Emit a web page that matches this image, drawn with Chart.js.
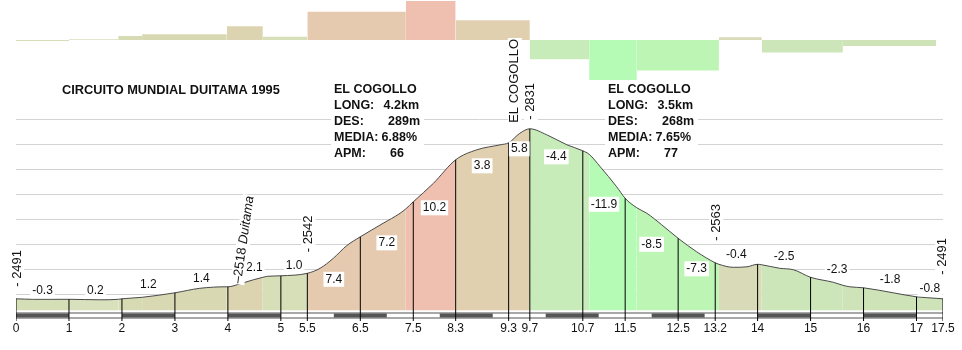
<!DOCTYPE html>
<html>
<head>
<meta charset="utf-8">
<script src="https://cdn.jsdelivr.net/npm/chart.js@4"></script>
<style>
  html, body { margin: 0; padding: 0; background: #fff; }
  #wrap { width: 962px; height: 350px; position: relative; }
</style>
</head>
<body>
<div id="wrap"><canvas id="profile"></canvas></div>
<script>
'use strict'

// km marks, elevation at each mark, gradient of each stretch
const kmMarks = [0, 1, 2, 3, 4, 5, 5.5, 6.5, 7.5, 8.3, 9.3, 9.7, 10.7, 11.5, 12.5, 13.2, 14, 15, 16, 17, 17.5];
const markElev = [2491, 2490, 2491, 2503, 2515, 2537, 2542, 2615, 2685, 2769, 2803, 2831, 2787, 2692, 2612, 2563, 2560, 2534, 2513, 2495, 2491];
const gradients = [-0.3, 0.2, 1.2, 1.4, 2.1, 1.0, 7.4, 7.2, 10.2, 3.8, 5.8, -4.4, -11.9, -8.5, -7.3, -0.4, -2.5, -2.3, -1.8, -0.8];

// profile line
const profileKm = [0, 0.33, 1, 1.59, 1.93, 2, 2.38, 3, 3.47, 3.98, 4, 4.23, 4.48, 4.66, 4.75, 5, 5.5, 5.74, 5.99, 6.24,
  6.5, 6.93, 7.25, 7.36, 7.5, 7.88, 8.3, 8.7, 9.14, 9.3, 9.51, 9.7, 10.02, 10.4, 10.7, 10.82, 11.03, 11.34, 11.5, 11.72,
  11.91, 12.19, 12.5, 12.85, 13.2, 13.27, 13.54, 13.8, 14, 14.08, 14.42, 14.68, 15, 15.43, 15.61, 15.74, 16, 16.56, 17, 17.37, 17.5];
const profileElev = [2491, 2490, 2490, 2489, 2490, 2491, 2494, 2503, 2512, 2515, 2515, 2521, 2529, 2534, 2536, 2537, 2542, 2552, 2572, 2597,
  2615, 2642, 2662, 2671, 2685, 2722, 2769, 2789, 2799, 2803, 2822, 2831, 2819, 2799, 2787, 2780, 2755, 2715, 2692, 2673,
  2662, 2639, 2612, 2585, 2563, 2560, 2554, 2555, 2560, 2559, 2552, 2549, 2534, 2524, 2518, 2515, 2513, 2503, 2495, 2492, 2491];

// gradient bars on top (also the fill colour of the profile)
const barKm = [0, 1, 1.93, 2.38, 3.98, 4.66, 5.5, 7.36, 8.3, 9.7, 10.82, 11.72, 13.27, 14.08, 15.61, 17.37];
const barGrade = [-0.3, 0.2, 1.2, 1.7, 4.1, 1.0, 8.4, 11.6, 5.9, -5.7, -11.9, -9.1, 0.8, -3.7, -1.8];
const barColors = ['#d5dfb7', '#d8e0bc', '#d6dbb3', '#d8d9b2', '#dcd3b0', '#d6dfb8', '#e6cab0', '#efc0b0',
  '#e0d0b0', '#c8ecb9', '#b5fbb5', '#bdf5b4', '#d8dab8', '#cce6b9', '#cfe3b8'];

// named points
const wpKm = [0, 4.2, 5.5, 9.7, 13.2, 17.5];
const wpElev = [2491, 2518, 2542, 2831, 2563, 2491];
const wpName = ['', 'Duitama', '', 'EL COGOLLO', '', ''];

// climbs
const climbName = ['EL COGOLLO', 'EL COGOLLO'];
const climbLong = ['4.2km', '3.5km'];
const climbDes = ['289m', '268m'];
const climbMedia = ['6.88%', '7.65%'];
const climbApm = ['66', '77'];

const gridElev = [2500, 2550, 2600, 2650, 2700, 2750, 2800, 2850];
const roadDashKm = [0, 2, 4, 6, 8, 10, 12, 14, 16];

const TITLE = 'CIRCUITO MUNDIAL DUITAMA 1995';
const FONT = 'Arial, "Liberation Sans", sans-serif';

// axis ranges
const Y_MIN = 2446.6, Y_MAX = 3088.6;
const YB_MIN = -83.6, YB_MAX = 11.9;
const ROAD = 2457.6;

Chart.defaults.font.family = FONT;

function zoneColor(km) {
  for (let i = 0; i < barColors.length; i++) {
    if (km < barKm[i + 1]) return barColors[i];
  }
  return barColors[barColors.length - 1];
}

const profilePts = profileKm.map((k, i) => ({x: k, y: profileElev[i]}));
const barPts = [];
barGrade.forEach((g, i) => {
  barPts.push({x: barKm[i], y: g}, {x: barKm[i + 1], y: g});
});
const dashPts = [];
roadDashKm.forEach(s => {
  dashPts.push({x: s, y: ROAD}, {x: s + 1, y: ROAD}, {x: s + 1, y: null});
});
const markBars = kmMarks.map((k, i) => ({x: k, y: [Y_MIN, markElev[i]]}));

function boxText(ctx, text, cx, cy) {
  const w = ctx.measureText(text).width + 4;
  ctx.fillStyle = '#fff';
  ctx.fillRect(cx - w / 2, cy - 7.5, w, 15);
  ctx.fillStyle = '#111';
  ctx.fillText(text, cx, cy);
}

// rotated text, starting at (px, py) and reading upwards
function vText(ctx, parts, px, py, angle) {
  ctx.save();
  ctx.translate(px, py);
  ctx.rotate(angle);
  ctx.textAlign = 'left';
  ctx.textBaseline = 'middle';
  let w = 0;
  parts.forEach(p => { ctx.font = p.font; w += ctx.measureText(p.text).width; });
  ctx.fillStyle = '#fff';
  ctx.fillRect(-1, -7, w + 2, 14);
  ctx.fillStyle = '#111';
  let off = 0;
  parts.forEach(p => {
    ctx.font = p.font;
    ctx.fillText(p.text, off, 0);
    off += ctx.measureText(p.text).width;
  });
  ctx.restore();
}

const labelsPlugin = {
  id: 'profileLabels',
  afterDatasetsDraw(chart) {
    const {ctx, scales: {x, y}} = chart;
    const up = -Math.PI / 2;
    const reg = '13px ' + FONT;
    ctx.save();

    // gradient labels
    ctx.font = '12px ' + FONT;
    ctx.textAlign = 'center';
    ctx.textBaseline = 'middle';
    gradients.forEach((g, i) => {
      const e0 = markElev[i], e1 = markElev[i + 1];
      const cx = x.getPixelForValue((kmMarks[i] + kmMarks[i + 1]) / 2);
      const cy = Math.abs(g) >= 3
        ? y.getPixelForValue(Math.min(e0, e1)) + 6
        : y.getPixelForValue(Math.max(e0, e1)) - 8;
      boxText(ctx, g.toFixed(1), cx, cy);
    });

    // named points
    const px = i => x.getPixelForValue(wpKm[i]);
    const py = i => y.getPixelForValue(wpElev[i]);
    vText(ctx, [{text: '- ' + wpElev[0], font: reg}], px(0) + 1, py(0) - 12, up);
    vText(ctx, [{text: '\u2013' + wpElev[1] + ' ', font: reg}, {text: wpName[1], font: 'italic 13px ' + FONT}],
      px(1) - 1, py(1) - 2, -Math.PI * 0.455);
    vText(ctx, [{text: '- ' + wpElev[2], font: reg}], px(2) + 1, py(2) - 21, up);
    vText(ctx, [{text: wpName[3], font: reg}], px(3) - 15, py(3) - 6, up);
    vText(ctx, [{text: '- ' + wpElev[3], font: reg}], px(3) + 1, py(3) - 9, up);
    vText(ctx, [{text: '- ' + wpElev[4], font: reg}], px(4) + 1, py(4) - 22, up);
    vText(ctx, [{text: '- ' + wpElev[5], font: reg}], px(5) - 1, py(5) - 24, up);

    // title
    ctx.font = 'bold 12.8px ' + FONT;
    ctx.textAlign = 'left';
    ctx.textBaseline = 'middle';
    ctx.fillStyle = '#111';
    ctx.fillText(TITLE, 62, 90);

    // climb blocks
    ctx.font = 'bold 12.5px ' + FONT;
    const blockX = [334, 608];
    const valEnd = [85, 86, 83, 70];
    const rows = [90, 106, 122, 138, 154];
    climbName.forEach((name, c) => {
      const bx = blockX[c];
      ctx.fillStyle = '#fff';
      ctx.fillRect(bx - 3, 82, 93, 80);
      ctx.fillStyle = '#111';
      ctx.textAlign = 'left';
      ctx.fillText(name, bx, rows[0]);
      ['LONG:', 'DES:', 'MEDIA:', 'APM:'].forEach((k, r) => ctx.fillText(k, bx, rows[r + 1]));
      ctx.textAlign = 'right';
      [climbLong[c], climbDes[c], climbMedia[c], climbApm[c]].forEach((v, r) =>
        ctx.fillText(v, bx + valEnd[r], rows[r + 1]));
    });
    ctx.restore();
  }
};

new Chart(document.getElementById('profile').getContext('2d'), {
  data: {
    datasets: [
      {
        type: 'bar',
        data: markBars,
        backgroundColor: '#000',
        borderWidth: 0,
        barThickness: 1,
        inflateAmount: 0,
        grouped: false,
        order: 1,
      },
      {
        type: 'line',
        data: dashPts,
        borderColor: '#555',
        borderWidth: 4,
        pointRadius: 0,
        spanGaps: false,
        order: 2,
      },
      {
        type: 'line',
        data: [{x: 0, y: ROAD}, {x: 17.5, y: ROAD}],
        borderColor: '#fff',
        borderWidth: 3,
        pointRadius: 0,
        order: 3,
      },
      {
        type: 'line',
        data: [{x: 0, y: ROAD}, {x: 17.5, y: ROAD}],
        borderColor: '#a8a8a8',
        borderWidth: 7,
        pointRadius: 0,
        order: 4,
      },
      {
        type: 'line',
        data: profilePts,
        borderColor: '#4a4a4a',
        borderWidth: 1,
        pointRadius: 0,
        cubicInterpolationMode: 'monotone',
        fill: {value: 2468},
        segment: {
          backgroundColor: ctx => zoneColor((ctx.p0.parsed.x + ctx.p1.parsed.x) / 2),
        },
        order: 5,
      },
      {
        type: 'line',
        yAxisID: 'yb',
        data: barPts,
        borderWidth: 0,
        borderColor: 'rgba(0,0,0,0)',
        pointRadius: 0,
        tension: 0,
        fill: {value: 0},
        segment: {
          backgroundColor: ctx => {
            const a = ctx.p0.parsed.x, b = ctx.p1.parsed.x;
            return a === b ? 'rgba(0,0,0,0)' : zoneColor((a + b) / 2);
          },
        },
        order: 6,
      },
    ],
  },
  options: {
    responsive: true,
    maintainAspectRatio: false,
    animation: false,
    events: [],
    layout: { padding: { left: 16, right: 19, top: 0, bottom: 14.6 } },
    plugins: {
      legend: { display: false },
      tooltip: { enabled: false },
    },
    scales: {
      x: {
        type: 'linear',
        offset: false,
        min: 0,
        max: 17.5,
        afterBuildTicks: s => { s.ticks = kmMarks.map(v => ({value: v})); },
        ticks: {
          autoSkip: false,
          maxRotation: 0,
          padding: 0,
          color: '#111',
          font: { size: 12 },
          callback: v => String(v),
        },
        grid: { display: false, drawTicks: false, offset: false },
        border: { display: false },
      },
      y: {
        type: 'linear',
        min: Y_MIN,
        max: Y_MAX,
        afterBuildTicks: s => { s.ticks = gridElev.map(v => ({value: v})); },
        ticks: { display: false },
        grid: { color: '#d3d3d3', drawTicks: false },
        border: { display: false },
      },
      yb: {
        type: 'linear',
        display: false,
        min: YB_MIN,
        max: YB_MAX,
      },
    },
  },
  plugins: [labelsPlugin],
});
</script>
</body>
</html>
